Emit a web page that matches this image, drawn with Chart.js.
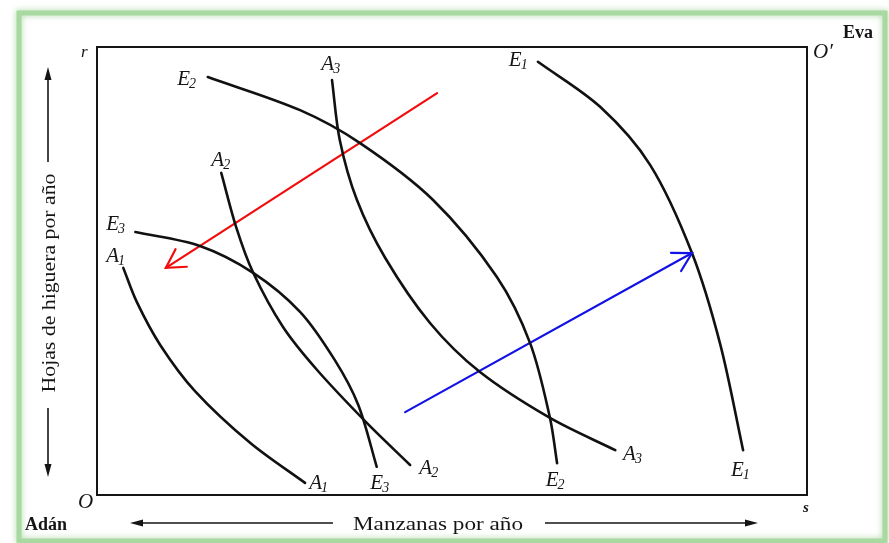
<!DOCTYPE html>
<html>
<head>
<meta charset="utf-8">
<script src="https://cdn.jsdelivr.net/npm/chart.js@4.4.1/dist/chart.umd.min.js"></script>
<style>
  body { margin: 0; background: #fff; }
  canvas { display: block; }
</style>
</head>
<body>
<canvas id="caja" width="889" height="543"></canvas>
<script>
// Curvas de indiferencia de Adán (medidas desde O, abajo a la izquierda)
const curveA1 = [[3.7,50.7],[5.6,43.1],[8.9,33.5],[13.8,23.2],[21.6,11.6],[29.3,2.7]];
const curveA2 = [[17.5,71.9],[19.6,59.8],[22.0,49.6],[26.2,37.5],[31.0,27.9],[38.0,16.1],[44.1,6.7]];
const curveA3 = [[33.1,92.6],[34.2,79.2],[36.6,65.9],[40.6,52.9],[46.9,38.4],[53.9,27.5],[63.8,17.2],[73.0,10.0]];
// Curvas de indiferencia de Eva (convexas hacia O')
const curveE1 = [[62.1,96.7],[70.9,86.6],[77.9,73.7],[83.8,54.0],[87.8,33.5],[91.0,10.0]];
const curveE2 = [[15.6,93.3],[28.6,85.9],[37.0,78.6],[47.3,65.9],[56.3,48.7],[61.0,33.9],[63.8,17.2],[64.8,7.1]];
const curveE3 = [[5.4,58.7],[14.5,55.6],[22.0,49.6],[28.6,40.9],[33.5,30.1],[36.8,20.1],[39.4,6.3]];
// Flechas de dirección
const arrowRed = [[47.9,89.7],[9.7,50.7]];
const arrowBlue = [[43.4,18.5],[83.8,54.0]];

// Rótulos de las curvas: letra, subíndice, posición en unidades de la caja
const curveLabels = [
  ['E','2',11.3,91.5], ['A','2',16.1,73.4], ['A','3',31.6,94.9], ['E','1',58.0,95.8],
  ['E','3',1.3,59.2], ['A','1',1.3,52.0],
  ['A','1',29.9,1.3], ['E','3',38.5,1.3], ['A','2',45.4,4.7], ['E','2',63.2,2.0],
  ['A','3',74.1,7.8], ['E','1',89.3,4.2]
];

const pts = arr => arr.map(p => ({ x: p[0], y: p[1] }));
const curve = (arr, color, width) => ({
  data: pts(arr), showLine: true, borderColor: color, borderWidth: width,
  pointRadius: 0, tension: 0.32, fill: false, borderCapStyle: 'round'
});

const serif = '"Liberation Serif", "DejaVu Serif", serif';

function fitText(ctx, text, x, y, width) {
  const w = ctx.measureText(text).width;
  ctx.save();
  ctx.translate(x, y);
  ctx.scale(width / w, 1);
  ctx.fillText(text, -w / 2, 0);
  ctx.restore();
}

function solidArrow(ctx, x1, y1, x2, y2) {
  const ang = Math.atan2(y2 - y1, x2 - x1);
  ctx.beginPath();
  ctx.moveTo(x1, y1);
  ctx.lineTo(x2 - 10 * Math.cos(ang), y2 - 10 * Math.sin(ang));
  ctx.stroke();
  ctx.beginPath();
  ctx.moveTo(x2, y2);
  ctx.lineTo(x2 - 13 * Math.cos(ang) + 3.5 * Math.sin(ang), y2 - 13 * Math.sin(ang) - 3.5 * Math.cos(ang));
  ctx.lineTo(x2 - 13 * Math.cos(ang) - 3.5 * Math.sin(ang), y2 - 13 * Math.sin(ang) + 3.5 * Math.cos(ang));
  ctx.closePath();
  ctx.fill();
}

const marco = {
  id: 'marco',
  beforeDraw(chart) {
    const ctx = chart.ctx;
    ctx.save();
    ctx.fillStyle = '#fff';
    ctx.fillRect(0, 0, chart.width, chart.height);
    ctx.shadowColor = 'rgba(120,190,110,0.6)';
    ctx.shadowBlur = 6;
    ctx.strokeStyle = '#a8d9a0';
    ctx.lineWidth = 5;
    ctx.strokeRect(19, 13, 866, 528);
    ctx.restore();
  },
  beforeDatasetsDraw(chart) {
    const { ctx, chartArea: a } = chart;
    ctx.save();
    ctx.strokeStyle = '#151515';
    ctx.lineWidth = 2;
    ctx.strokeRect(a.left, a.top, a.right - a.left, a.bottom - a.top);
    ctx.restore();
  }
};

const rotulos = {
  id: 'rotulos',
  afterDatasetsDraw(chart) {
    const { ctx, chartArea: a, scales } = chart;
    ctx.save();
    ctx.fillStyle = '#151515';
    ctx.strokeStyle = '#151515';
    ctx.textBaseline = 'alphabetic';

    // puntas abiertas de las flechas roja y azul
    chart.data.datasets.forEach((ds, i) => {
      if (!ds.arrow) return;
      const el = chart.getDatasetMeta(i).data;
      const p = el[el.length - 2], q = el[el.length - 1];
      const ang = Math.atan2(q.y - p.y, q.x - p.x);
      ctx.save();
      ctx.strokeStyle = ds.borderColor;
      ctx.lineWidth = ds.borderWidth;
      ctx.lineCap = 'round';
      ctx.beginPath();
      ctx.moveTo(q.x - 21 * Math.cos(ang - 0.52), q.y - 21 * Math.sin(ang - 0.52));
      ctx.lineTo(q.x, q.y);
      ctx.lineTo(q.x - 21 * Math.cos(ang + 0.52), q.y - 21 * Math.sin(ang + 0.52));
      ctx.stroke();
      ctx.restore();
    });

    // letras de las curvas
    curveLabels.forEach(([letra, sub, x, y]) => {
      const px = scales.x.getPixelForValue(x);
      const py = scales.y.getPixelForValue(y);
      ctx.font = 'italic 21px ' + serif;
      ctx.fillText(letra, px, py);
      const w = ctx.measureText(letra).width;
      ctx.font = 'italic 14px ' + serif;
      ctx.fillText(sub, px + w - 1, py + 3);
    });

    // vértices de la caja
    ctx.font = 'italic 17px ' + serif;
    ctx.fillText('r', a.left - 16, a.top + 10);
    ctx.font = 'italic 21px ' + serif;
    ctx.fillText('O\u2032', a.right + 6, a.top + 11);
    ctx.fillText('O', a.left - 19, a.bottom + 13);
    ctx.font = 'bold italic 15px ' + serif;
    ctx.fillText('s', a.right - 4, a.bottom + 17);
    ctx.font = 'bold 18px ' + serif;
    ctx.fillText('Eva', a.right + 36, a.top - 9);
    ctx.fillText('Adán', 25, 530);

    // títulos de los ejes con sus flechas
    ctx.font = '19px ' + serif;
    fitText(ctx, 'Manzanas por año', 438, 530, 170);
    ctx.save();
    ctx.translate(55, 283);
    ctx.rotate(-Math.PI / 2);
    fitText(ctx, 'Hojas de higuera por año', 0, 0, 219);
    ctx.restore();

    ctx.lineWidth = 1.6;
    solidArrow(ctx, 333, 523, 130, 523);
    solidArrow(ctx, 545, 523, 758, 523);
    solidArrow(ctx, 48, 162, 48, 67);
    solidArrow(ctx, 48, 408, 48, 477);
    ctx.restore();
  }
};

const red = curve(arrowRed, '#f20c0c', 2.2);
red.arrow = true;
red.tension = 0;
const blue = curve(arrowBlue, '#1212e6', 2.2);
blue.arrow = true;
blue.tension = 0;

new Chart(document.getElementById('caja'), {
  type: 'scatter',
  data: {
    datasets: [
      curve(curveA1, '#111', 2.6),
      curve(curveA2, '#111', 2.6),
      curve(curveA3, '#111', 2.6),
      curve(curveE1, '#111', 2.6),
      curve(curveE2, '#111', 2.6),
      curve(curveE3, '#111', 2.6),
      red,
      blue
    ]
  },
  options: {
    responsive: false,
    animation: false,
    layout: { padding: { left: 97, right: 82, top: 47, bottom: 48 } },
    plugins: { legend: { display: false }, tooltip: { enabled: false } },
    scales: {
      x: { type: 'linear', min: 0, max: 100, display: false },
      y: { type: 'linear', min: 0, max: 100, display: false }
    }
  },
  plugins: [marco, rotulos]
});
</script>
</body>
</html>
